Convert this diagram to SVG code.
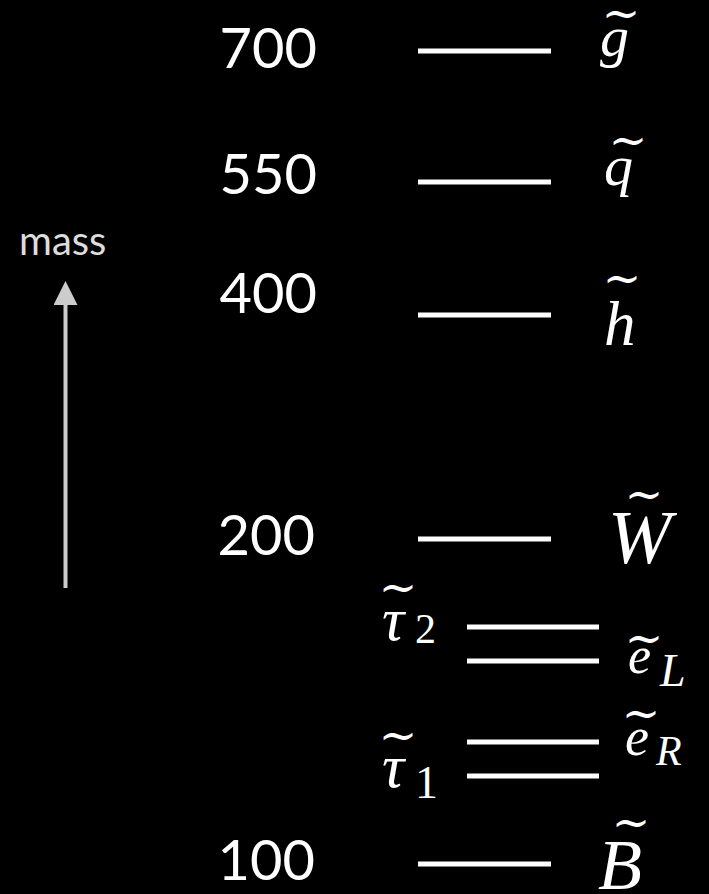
<svg xmlns="http://www.w3.org/2000/svg" width="709" height="894" viewBox="0 0 709 894">
<style>
.num{font-family:Lato,"Open Sans",sans-serif;font-size:56px;fill:#fff;text-anchor:end}
.lvl{stroke:#fff;stroke-width:5}
.m{font-family:"Liberation Serif","DejaVu Serif",serif;font-style:italic;fill:#fff}
.sub{font-family:"Liberation Serif","DejaVu Serif",serif;fill:#fff}
.t{font-family:"DejaVu Serif",serif;font-size:46px;fill:#fff;text-anchor:middle}
.mass{font-family:Lato,"Open Sans",sans-serif;font-size:40px;fill:#ddd}
</style>
<defs>
<marker id="ah" markerWidth="6" markerHeight="6" refX="0" refY="3" orient="auto" markerUnits="strokeWidth">
<path d="M0,0 L6,3 L0,6 Z" fill="#ccc"/>
</marker>
</defs>
<rect width="709" height="894" fill="#000"/>
<g id="axis">
<text class="mass" x="19" y="255">mass</text>
<line x1="65.5" y1="588" x2="65.5" y2="305" stroke="#ccc" stroke-width="4" marker-end="url(#ah)"/>
</g>
<g id="connectors">
<line class="lvl" x1="418" y1="51" x2="551" y2="51"/>
<line class="lvl" x1="418" y1="182" x2="551" y2="182"/>
<line class="lvl" x1="418" y1="315" x2="551" y2="315"/>
<line class="lvl" x1="418" y1="539" x2="551" y2="539"/>
<line class="lvl" x1="467" y1="627" x2="599" y2="627"/>
<line class="lvl" x1="467" y1="661" x2="599" y2="661"/>
<line class="lvl" x1="467" y1="742" x2="599" y2="742"/>
<line class="lvl" x1="467" y1="776" x2="599" y2="776"/>
<line class="lvl" x1="418" y1="864" x2="551" y2="864"/>
</g>
<g id="n700"><text class="num" x="317" y="68">700</text></g>
<g id="n550"><text class="num" x="317" y="194">550</text></g>
<g id="n400"><text class="num" x="317" y="313">400</text></g>
<g id="n200"><text class="num" x="315" y="555">200</text></g>
<g id="n100"><text class="num" x="315" y="880">100</text></g>
<g id="gluino"><text class="m" x="600" y="56" font-size="58">g</text><text class="t" x="621" y="29">~</text></g>
<g id="squark"><text class="m" x="604" y="185" font-size="58">q</text><text class="t" x="628" y="156">~</text></g>
<g id="higgsino"><text class="m" x="604" y="345" font-size="63">h</text><text class="t" x="622" y="294">~</text></g>
<g id="wino"><text class="m" x="608" y="563" font-size="76">W</text><text class="t" x="644" y="510">~</text></g>
<g id="stau2"><text class="m" x="382" y="640" font-size="62">&#964;</text><text class="t" x="398" y="603">~</text><text class="sub" x="415" y="643" font-size="42">2</text></g>
<g id="selL"><text class="m" x="628" y="673" font-size="52">e</text><text class="t" x="644" y="654">~</text><text class="m" x="660" y="686" font-size="46">L</text></g>
<g id="selR"><text class="m" x="625" y="755" font-size="54">e</text><text class="t" x="641" y="729">~</text><text class="m" x="656" y="765" font-size="42">R</text></g>
<g id="stau1"><text class="m" x="382" y="787" font-size="62">&#964;</text><text class="t" x="398" y="751">~</text><text class="sub" x="415" y="798" font-size="46">1</text></g>
<g id="bino"><text class="m" x="598" y="889" font-size="72">B</text><text class="t" x="631" y="838">~</text></g>
</svg>
